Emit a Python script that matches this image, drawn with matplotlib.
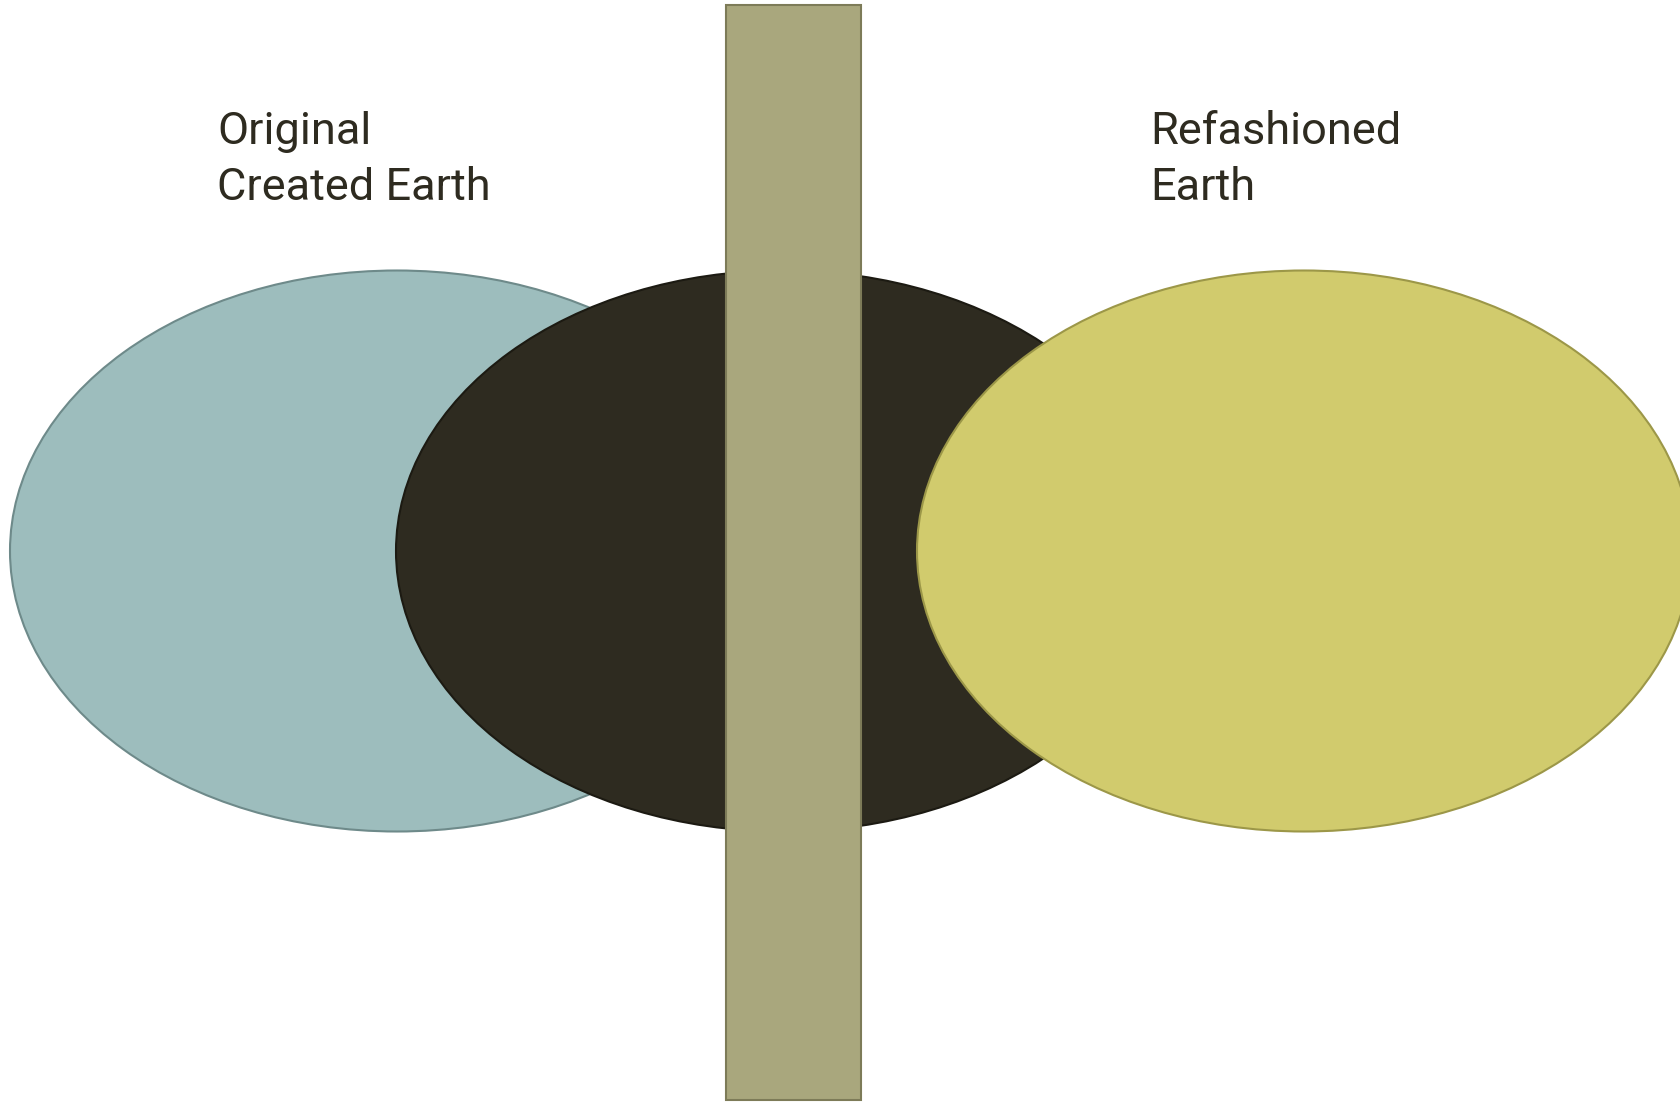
import matplotlib
matplotlib.use('Agg')
from matplotlib import pyplot as plt
from matplotlib.patches import Ellipse, Rectangle

# diagram layout in pixel units of the picture (y grows downwards)
names = ['original', 'between', 'refashioned']
centers_x = [397, 783, 1304]
center_y = 551
ell_w = 774
ell_h = 561
fills = ['#9dbdbd', '#2e2b20', '#d1cb6d']
edges = ['#6e8a8a', '#1c1a12', '#9c9748']

bar_x = [726, 861]
bar_y = [5, 1100]

labels = [['Original', 'Created Earth'], ['Refashioned', 'Earth']]
label_x = [217, 1150]
label_base = [144, 200]

fig = plt.figure(figsize=(16.81, 11.02), dpi=100)
ax = fig.add_axes([0, 0, 1, 1])
ax.set_xlim(0, 1681)
ax.set_ylim(1102, 0)
ax.axis('off')

for i, cx in enumerate(centers_x):
    ax.add_patch(Ellipse((cx, center_y), ell_w, ell_h, facecolor=fills[i],
                         edgecolor=edges[i], linewidth=1.5,
                         zorder=[1, 2, 4][i]))

ax.add_patch(Rectangle((bar_x[0], bar_y[0]), bar_x[1] - bar_x[0], bar_y[1] - bar_y[0],
                       facecolor='#a9a77d', edgecolor='#7d7b58', linewidth=1.5, zorder=3))

for lines, x in zip(labels, label_x):
    for line, y in zip(lines, label_base):
        ax.text(x, y, line, fontsize=32.5, color='#2e2b20', va='baseline', ha='left',
                family=['Roboto', 'DejaVu Sans'], zorder=5)

fig.savefig('out.png', dpi=100)
